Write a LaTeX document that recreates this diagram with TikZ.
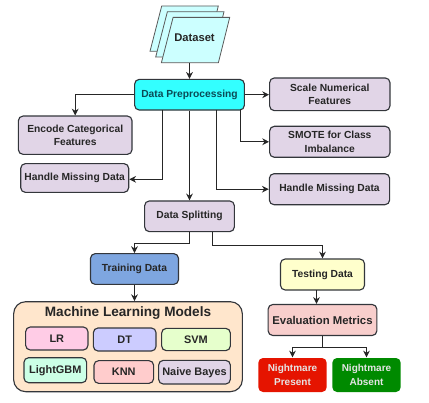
\documentclass[tikz,border=0pt]{standalone}
\usepackage{fontspec}
\setmainfont{Liberation Sans}
\usetikzlibrary{arrows.meta,calc}
\definecolor{edgegray}{HTML}{33363B}
\definecolor{prepink}{HTML}{0B4A55}
\tikzset{
  boxsize/.style 2 args = {minimum width=#1*0.75pt, minimum height=#2*0.75pt},
  box/.style    = {draw=edgegray, line width=0.85pt, rounded corners=3.5pt, inner sep=0pt,
                   align=center, font=\fontsize{7.7}{10}\selectfont\bfseries, text=black!85},
  inbox/.style  = {box, font=\fontsize{8.2}{10}\selectfont\bfseries},
  sheet/.style  = {draw=black!65, line width=0.6pt, fill={rgb,255:red,204;green,255;blue,255}},
  wire/.style   = {-{Stealth[length=1.8mm,width=1.8mm]}, line width=0.8pt, black!85},
  result/.style = {box, draw=none, text=white!90!black, font=\fontsize{7.5}{10}\selectfont\bfseries},
}
\begin{document}
\begin{tikzpicture}[x=0.75pt,y=-0.75pt]
  \useasboundingbox (0,0) rectangle (429,403);
  % stacked sheets
  \foreach \d in {0,5.7,11.4}
    {\draw[sheet,shift={(\d,\d)}] (161.7,6) -- (218.3,6) -- (207,51.3) -- (150,51.3) -- cycle;}
  \node[font=\fontsize{8.4}{10}\selectfont\bfseries,text=black!85] (dataset) at (194.5,38) {Dataset};
  \coordinate (datasetFoot) at (189.5,62.7);

  \node[box,boxsize={109.7}{30.7},fill={rgb,255:red,51;green,255;blue,255},text=prepink] (prep) at (189.5,94.7) {Data Preprocessing};
  \node[box,boxsize={120.3}{32.7},fill={rgb,255:red,225;green,213;blue,231}] (scale) at (329.8,94.3) {Scale Numerical\\Features};
  \node[box,boxsize={120.3}{31},fill={rgb,255:red,225;green,213;blue,231}] (smote) at (329.8,141.8) {SMOTE for Class\\Imbalance};
  \node[box,boxsize={120.3}{31},fill={rgb,255:red,225;green,213;blue,231}] (handleR) at (329.5,189.2) {Handle Missing Data};
  \node[box,boxsize={113.7}{38.3},fill={rgb,255:red,225;green,213;blue,231}] (encode) at (75.2,135.2) {Encode Categorical\\Features};
  \node[box,boxsize={108}{28.7},fill={rgb,255:red,225;green,213;blue,231}] (handleL) at (74.7,178) {Handle Missing Data};
  \node[box,boxsize={89.7}{30.7},fill={rgb,255:red,225;green,213;blue,231}] (split) at (189.5,216.3) {Data Splitting};
  \node[box,boxsize={88}{30.7},fill={rgb,255:red,126;green,166;blue,224}] (train) at (134.5,269) {Training Data};
  \node[box,boxsize={84}{31},fill={rgb,255:red,255;green,255;blue,204}] (test) at (322.5,274.5) {Testing Data};
  \node[box,boxsize={108.7}{31},fill={rgb,255:red,248;green,206;blue,204},font=\fontsize{8.5}{10}\selectfont\bfseries] (eval) at (322.5,320) {Evaluation Metrics};
  \node[result,boxsize={68.3}{34},fill={rgb,255:red,229;green,20;blue,0}] (present) at (292.5,375) {Nightmare\\Present};
  \node[result,boxsize={68.3}{34},fill={rgb,255:red,0;green,138;blue,0}] (absent) at (366.5,375) {Nightmare\\Absent};

  % models panel
  \node[box,boxsize={228.7}{90},rounded corners=9pt,fill={rgb,255:red,255;green,230;blue,204}] (models) at (128,346.7) {};
  \node[font=\fontsize{10.2}{12}\selectfont\bfseries,text=black!85] (modelsT) at (128,313.5) {Machine Learning Models};
  \node[inbox,boxsize={62.3}{23},fill={rgb,255:red,255;green,204;blue,230}] (lr) at (56.8,338.5) {LR};
  \node[inbox,boxsize={62.7}{23},fill={rgb,255:red,204;green,204;blue,255}] (dt) at (124.7,339.5) {DT};
  \node[inbox,boxsize={68.7}{22.3},fill={rgb,255:red,230;green,255;blue,204}] (svm) at (196,339.5) {SVM};
  \node[inbox,boxsize={62.7}{25},fill={rgb,255:red,204;green,255;blue,230}] (gbm) at (55.3,370.2) {LightGBM};
  \node[inbox,boxsize={59.7}{22.7},fill={rgb,255:red,255;green,204;blue,204}] (knn) at (123.8,372) {KNN};
  \node[inbox,boxsize={71.7}{23.7},fill={rgb,255:red,225;green,213;blue,231}] (bayes) at (194.5,372.2) {Naive Bayes};

  % tap points under the preprocessing box
  \coordinate (tapL) at (162.5,110);
  \coordinate (tapM) at (216.5,110);
  \coordinate (tapR) at (240.5,110);
  \coordinate (tapS) at (212.5,231.7);
  \coordinate (tapT) at (316.5,290);
  \draw[wire] (datasetFoot) -- (datasetFoot |- prep.north);
  \draw[wire] (prep.west) -| (encode.north);
  \draw[wire] (prep.east) -- (scale.west |- prep.east);
  \draw[wire] (tapR) |- (smote.west);
  \draw[wire] (tapM) |- (handleR.west);
  \draw[wire] (tapL) |- ($(handleL.east)+(0,1.3)$);
  \draw[wire] (prep.south) -- (split.north);
  \draw[wire] (split.south) -- ++(0,11.5) -| (train.north);
  \draw[wire] (tapS) -- ++(0,14) -| (test.north);
  \draw[wire] (train.south) -- (train.south |- models.north);
  \draw[wire] (tapT) -- (tapT |- eval.north);
  \draw[wire] (eval.south) -- ++(0,11.7) -| (present.north);
  \draw[wire] (eval.south) -- ++(0,11.7) -| (absent.north);
\end{tikzpicture}
\end{document}
